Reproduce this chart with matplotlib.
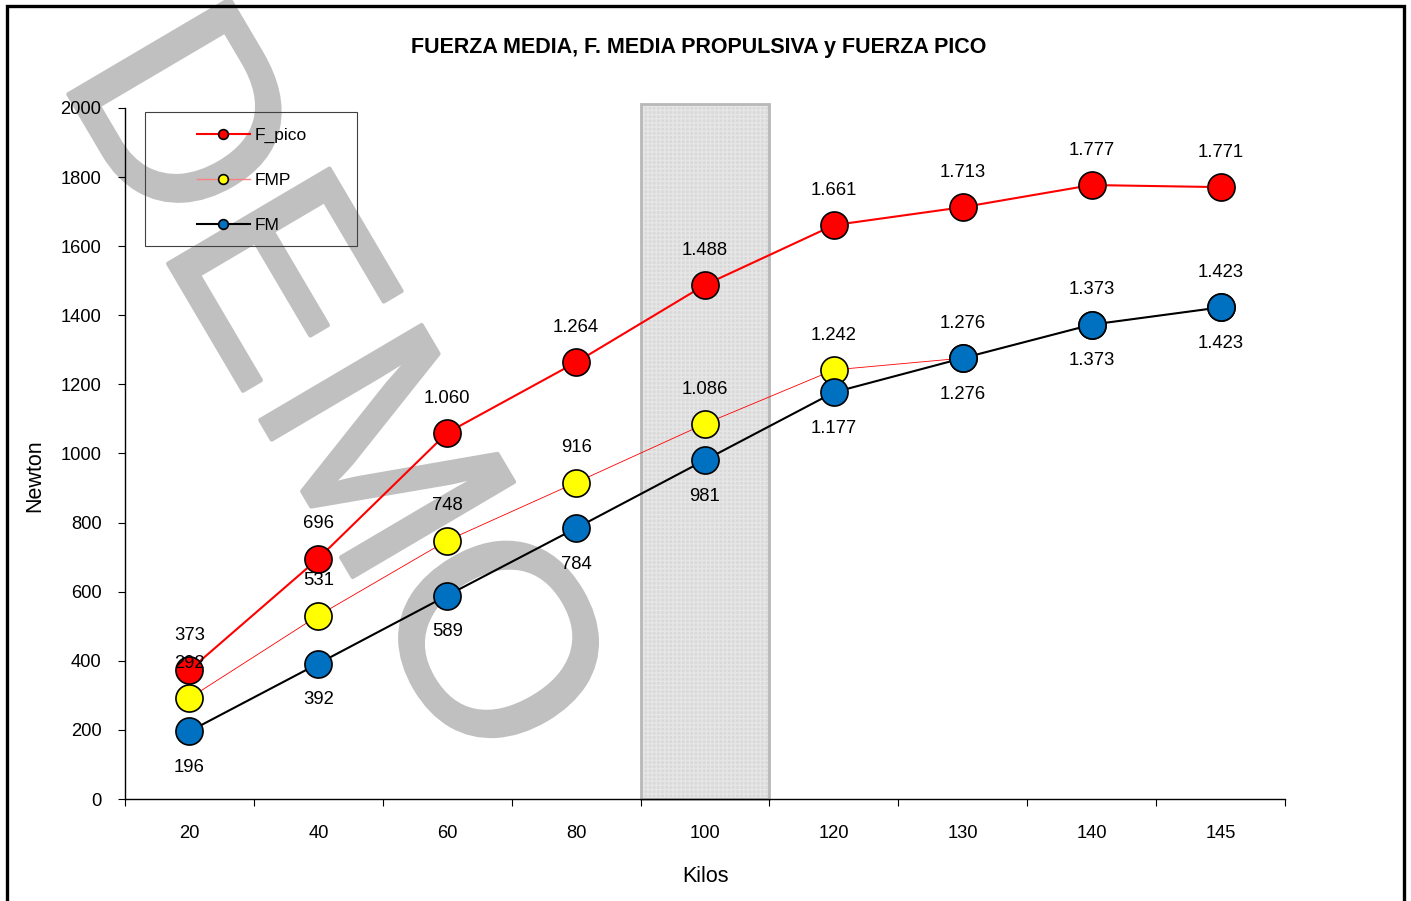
import matplotlib
matplotlib.use('Agg')
import matplotlib.pyplot as plt
import matplotlib.patheffects as pe
from matplotlib.patches import Rectangle
from matplotlib.lines import Line2D

plt.rcParams['font.family'] = ['Liberation Sans', 'DejaVu Sans']

# data
kilos = ['20', '40', '60', '80', '100', '120', '130', '140', '145']
f_pico = [373, 696, 1060, 1264, 1488, 1661, 1713, 1777, 1771]
fmp = [292, 531, 748, 916, 1086, 1242, 1276, 1373, 1423]
fm = [196, 392, 589, 784, 981, 1177, 1276, 1373, 1423]

W, H = 1411, 901
fig = plt.figure(figsize=(W / 100, H / 100), dpi=100)
ax = fig.add_axes([125 / W, 1 - 799 / H, 1160 / W, 691 / H])
ax.set_facecolor('none')

x = list(range(len(kilos)))

# watermark (behind everything)
fig.text(57 / W, 1 - 75 / H, 'DEMO', fontsize=196, color='#c0c0c0',
         rotation=-59.5, rotation_mode='anchor', ha='left', va='baseline',
         zorder=-1, path_effects=[pe.withStroke(linewidth=3, foreground='#c0c0c0')])

# shaded band at 100 kg
ax.add_patch(Rectangle((3.5, 0), 1, 2012, facecolor=(0, 0, 0, 0.15),
                       edgecolor=(1, 1, 1, 0.35), hatch='++++', linewidth=0,
                       clip_on=False, zorder=1))
ax.add_patch(Rectangle((3.5, 0), 1, 2012, facecolor='none', edgecolor='#b8b8b8',
                       linewidth=2, clip_on=False, zorder=1))

ax.plot(x, f_pico, color='red', lw=1.5, marker='o', ms=19.5, mfc='red',
        mec='black', mew=1.2, zorder=4)
ax.plot(x, fmp, color='red', lw=0.6, marker='o', ms=19.5, mfc='yellow',
        mec='black', mew=1.2, zorder=3)
ax.plot(x, fm, color='black', lw=1.5, marker='o', ms=19.5, mfc='#0070c0',
        mec='black', mew=1.2, zorder=5)

def fmt(v):
    return f'{v:,}'.replace(',', '.')

for i in x:
    ax.annotate(fmt(f_pico[i]), (i, f_pico[i]), xytext=(0, 25), textcoords='offset points',
                ha='center', va='center', fontsize=13.3, zorder=6)
    ax.annotate(fmt(fmp[i]), (i, fmp[i]), xytext=(0, 25), textcoords='offset points',
                ha='center', va='center', fontsize=13.3, zorder=6)
    ax.annotate(fmt(fm[i]), (i, fm[i]), xytext=(0, -26), textcoords='offset points',
                ha='center', va='center', fontsize=13.3, zorder=6)

ax.set_xlim(-0.5, len(kilos) - 0.5)
ax.set_ylim(0, 2000)
ax.set_yticks(range(0, 2001, 200))
ax.set_xticks([i - 0.5 for i in range(len(kilos) + 1)])
ax.set_xticklabels([])
ax.set_xticks(x, minor=True)
ax.set_xticklabels(kilos, minor=True)
ax.tick_params(axis='x', which='major', length=5, width=0.8, direction='out')
ax.tick_params(axis='x', which='minor', length=0, pad=19, labelsize=13.2)
ax.tick_params(axis='y', length=5, width=0.8, direction='out', pad=12, labelsize=13.2)
for s in ['top', 'right']:
    ax.spines[s].set_visible(False)
for s in ['left', 'bottom']:
    ax.spines[s].set_linewidth(1.0)

fig.text(705 / W, 1 - 876 / H, 'Kilos', fontsize=15.5, ha='center', va='center')
fig.text(35 / W, 1 - 476 / H, 'Newton', fontsize=15.5, ha='center', va='center', rotation=90)
fig.text(699 / W, 1 - 48 / H, 'FUERZA MEDIA, F. MEDIA PROPULSIVA y FUERZA PICO',
         fontsize=15.5, fontweight='bold', ha='center', va='center')

# legend
handles = [
    Line2D([], [], color='red', lw=1.5, marker='o', ms=7, mfc='red', mec='black', mew=1.2),
    Line2D([], [], color='#ff8080', lw=1.0, marker='o', ms=7, mfc='yellow', mec='black', mew=1.2),
    Line2D([], [], color='black', lw=1.5, marker='o', ms=7, mfc='#0070c0', mec='black', mew=1.2),
]
fig.legend(handles, ['F_pico', 'FMP', 'FM'], loc='upper left',
           bbox_to_anchor=(197 / W, 1 - 128 / H), frameon=False, borderpad=0,
           borderaxespad=0, handlelength=3.05, handletextpad=0.25,
           labelspacing=1.7, fontsize=12.5)
fig.patches.append(Rectangle((145 / W, 1 - 246 / H), 212 / W, 134 / H,
                             transform=fig.transFigure, facecolor='none',
                             edgecolor='#404040', linewidth=0.8))

# outer frame
fig.patches.append(Rectangle((7 / W, -0.05), 1397 / W, 1.05 - 6 / H,
                             transform=fig.transFigure, facecolor='none',
                             edgecolor='black', linewidth=2.4, zorder=10))

fig.savefig('out.png', dpi=100)
